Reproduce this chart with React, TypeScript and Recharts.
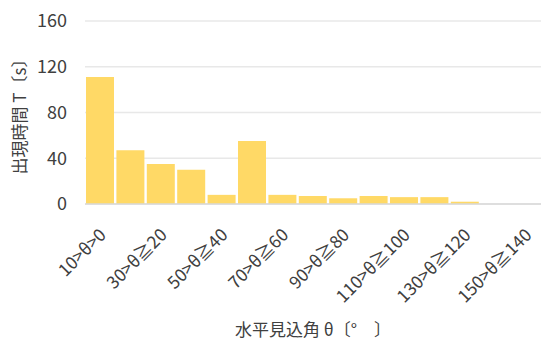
import React from "react";
import { BarChart, Bar, XAxis, YAxis, CartesianGrid, Label } from "recharts";

// Horizontal viewing angle bins and the time each was visible
const angleBins = [
  "10>θ>0",
  "20>θ≧10",
  "30>θ≧20",
  "40>θ≧30",
  "50>θ≧40",
  "60>θ≧50",
  "70>θ≧60",
  "80>θ≧70",
  "90>θ≧80",
  "100>θ≧90",
  "110>θ≧100",
  "120>θ≧110",
  "130>θ≧120",
  "140>θ≧130",
  "150>θ≧140",
];
const appearTime = [111, 47, 35, 30, 8, 55, 8, 7, 5, 7, 6, 6, 2, 0, 0];
const yTicks = [0, 40, 80, 120, 160];

const data = angleBins.map((bin, i) => ({ bin, time: appearTime[i] }));

const FONT = '"Noto Sans CJK JP", "Noto Sans", sans-serif';
const TEXT = "#404040";

function AngleTick({ x, y, payload }: any) {
  const tx = x + 7;
  const ty = y + 24;
  return (
    <text
      x={tx}
      y={ty}
      transform={`rotate(-45 ${tx} ${ty})`}
      textAnchor="end"
      fontSize={17.5}
      fill={TEXT}
      fontFamily={FONT}
    >
      {payload.value}
    </text>
  );
}

export default function App() {
  return (
    <div style={{ position: "absolute", left: 0, top: 0, background: "#fff", fontFamily: FONT }}>
      <BarChart
        width={541}
        height={341}
        data={data}
        margin={{ top: 21, right: 0, bottom: 0, left: 0 }}
        barCategoryGap={1}
      >
        <CartesianGrid vertical={false} stroke="#e8e8e8" strokeWidth={1.5} />
        <XAxis
          dataKey="bin"
          height={137}
          interval={1}
          tickLine={false}
          axisLine={{ stroke: "#d9d9d9", strokeWidth: 1.5 }}
          tick={<AngleTick />}
        >
          <Label
            value="水平見込角 θ〔°　〕"
            position="insideBottom"
            offset={5}
            fontSize={17}
            fill={TEXT}
            fontFamily={FONT}
          />
        </XAxis>
        <YAxis
          width={85}
          domain={[0, 160]}
          ticks={yTicks}
          tickLine={false}
          axisLine={false}
          tickSize={0}
          tickMargin={18}
          tick={{ fontSize: 18, fill: TEXT, fontFamily: FONT }}
        >
          <Label
            value="出現時間 T〔s〕"
            angle={-90}
            position="insideLeft"
            offset={20}
            fontSize={17}
            fill={TEXT}
            fontFamily={FONT}
            style={{ textAnchor: "middle" }}
          />
        </YAxis>
        <Bar dataKey="time" fill="#FFD966" isAnimationActive={false} />
      </BarChart>
    </div>
  );
}
